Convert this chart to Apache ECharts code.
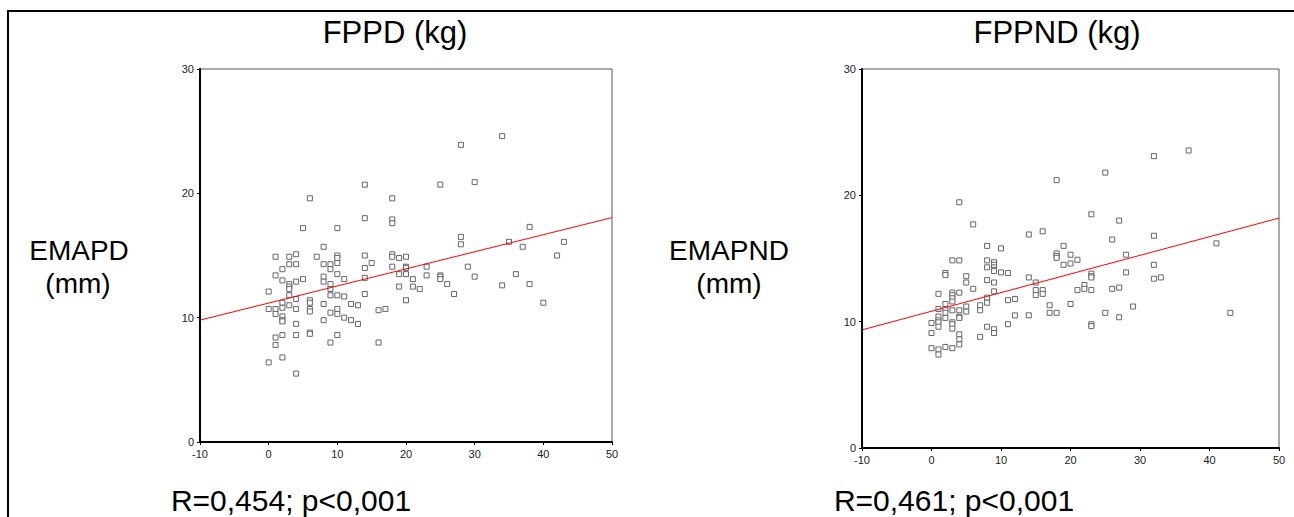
<!DOCTYPE html>
<html>
<head>
<meta charset="utf-8">
<script src="https://cdn.jsdelivr.net/npm/echarts@6/dist/echarts.min.js"></script>
<style>
html,body{margin:0;padding:0;background:#fff;}
#chart{width:1294px;height:517px;}
</style>
</head>
<body>
<div id="chart"></div>
<script>
// ---- tick labels ----
const xTicks = [-10, 0, 10, 20, 30, 40, 50];
const yTicks = [0, 10, 20, 30];

// ---- texts ----
const leftTitle = 'FPPD (kg)';
const rightTitle = 'FPPND (kg)';
const leftYLabel = ['EMAPD', '(mm)'];
const rightYLabel = ['EMAPND', '(mm)'];
const leftStat = 'R=0,454; p<0,001';
const rightStat = 'R=0,461; p<0,001';

// ---- left panel: FPPD (kg) vs EMAPD (mm) ----
const emapdVsFppd = [
  [0,12.1],[0,10.7],[0,6.4],
  [1,14.9],[1,13.4],[1,10.7],[1,10.3],[1,8.4],[1,7.8],
  [2,13.9],[2,13.0],[2,11.2],[2,10.8],[2,10.1],[2,9.8],[2,9.7],[2,8.6],[2,6.8],
  [3,14.9],[3,14.3],[3,12.7],[3,12.5],[3,12.3],[3,11.8],[3,11.0],
  [4,15.1],[4,14.3],[4,12.9],[4,11.5],[4,10.7],[4,9.5],[4,8.6],[4,5.5],
  [5,17.2],[5,13.1],
  [6,19.6],[6,11.4],[6,11.2],[6,10.7],[6,10.5],[6,8.8],[6,8.7],
  [7,14.9],
  [8,15.7],[8,14.3],[8,13.3],[8,12.9],[8,11.1],[8,9.8],
  [9,14.3],[9,13.9],[9,12.7],[9,12.3],[9,11.8],[9,10.4],[9,8.0],
  [10,17.2],[10,15.0],[10,14.8],[10,14.4],[10,13.5],[10,11.8],[10,10.7],[10,10.3],[10,8.6],
  [11,13.1],[11,11.7],[11,10.0],
  [12,11.1],[12,9.8],
  [13,11.0],[13,9.5],
  [14,20.7],[14,18.0],[14,15.0],[14,14.0],[14,13.2],[14,11.9],
  [15,14.4],
  [16,10.6],[16,8.0],
  [17,10.7],
  [18,19.6],[18,17.9],[18,17.6],[18,15.1],[18,14.9],[18,14.1],
  [19,14.8],[19,13.5],[19,12.5],
  [20,14.9],[20,14.1],[20,14.0],[20,13.5],[20,11.4],
  [21,13.1],[21,12.5],
  [22,12.3],
  [23,14.1],[23,13.4],
  [25,20.7],[25,13.4],[25,13.3],[25,13.1],
  [26,12.7],[27,11.9],
  [28,23.9],[28,16.5],[28,15.9],
  [29,14.1],
  [30,20.9],[30,13.3],
  [34,24.6],[34,12.6],
  [35,16.1],[36,13.5],[37,15.7],
  [38,17.3],[38,12.7],
  [40,11.2],[42,15.0],[43,16.1]
];
const leftFit = [[-10, 9.8], [50, 18.05]];

// ---- right panel: FPPND (kg) vs EMAPND (mm) ----
const emapndVsFppnd = [
  [0,9.9],[0,9.1],[0,7.9],
  [1,12.2],[1,11.0],[1,10.4],[1,10.1],[1,9.95],[1,9.6],[1,7.8],[1,7.4],
  [2,13.85],[2,13.7],[2,11.4],[2,11.0],[2,10.7],[2,10.3],[2,8.0],
  [3,14.85],[3,12.3],[3,12.1],[3,11.85],[3,11.6],[3,10.9],[3,9.95],[3,9.8],[3,9.45],[3,7.9],
  [4,19.45],[4,14.85],[4,12.3],[4,10.9],[4,10.4],[4,10.3],[4,9.0],[4,8.6],[4,8.2],
  [5,13.6],[5,13.1],[5,11.2],[5,10.8],
  [6,17.7],[6,12.6],
  [7,11.3],[7,10.9],[7,8.8],
  [8,16.0],[8,14.85],[8,14.3],[8,13.3],[8,11.9],[8,11.5],[8,9.6],
  [9,14.7],[9,14.5],[9,14.3],[9,14.1],[9,14.0],[9,13.1],[9,12.4],[9,9.4],[9,9.1],
  [10,15.8],[10,13.9],
  [11,13.85],[11,11.7],[11,9.8],
  [12,11.8],[12,10.5],
  [14,16.9],[14,13.5],[14,10.5],
  [15,13.1],[15,12.5],[15,12.1],
  [16,17.15],[16,12.5],[16,12.2],
  [17,11.3],[17,10.7],
  [18,21.2],[18,15.4],[18,15.2],[18,15.05],[18,10.7],
  [19,16.0],[19,14.5],
  [20,15.3],[20,14.6],[20,11.4],
  [21,14.9],[21,12.5],
  [22,12.9],[22,12.6],
  [23,18.5],[23,13.8],[23,13.6],[23,13.5],[23,12.5],[23,9.8],[23,9.65],
  [25,21.8],[25,10.7],
  [26,16.5],[26,12.6],
  [27,18.0],[27,12.7],[27,10.35],
  [28,15.3],[28,13.9],
  [29,11.2],
  [32,23.1],[32,16.8],[32,14.5],[32,13.4],
  [33,13.5],
  [37,23.55],
  [41,16.2],
  [43,10.7]
];
const rightFit = [[-10, 9.35], [50, 18.2]];

const FONT = '"Liberation Sans", Arial, sans-serif';

function xAxisFor(gridIndex) {
  return {
    gridIndex: gridIndex, type: 'value',
    min: xTicks[0], max: xTicks[xTicks.length - 1], interval: 10,
    axisLine: { show: true, onZero: false, lineStyle: { color: '#000', width: 2 } },
    axisTick: { show: true, length: 3, lineStyle: { color: '#000', width: 1 } },
    axisLabel: { color: '#222', fontSize: 11, fontFamily: FONT, margin: 6 },
    splitLine: { show: false }
  };
}
function yAxisFor(gridIndex) {
  return {
    gridIndex: gridIndex, type: 'value',
    min: yTicks[0], max: yTicks[yTicks.length - 1], interval: 10,
    axisLine: { show: true, onZero: false, lineStyle: { color: '#000', width: 2 } },
    axisTick: { show: true, length: 3, lineStyle: { color: '#000', width: 1 } },
    axisLabel: { color: '#222', fontSize: 11, fontFamily: FONT, margin: 6 },
    splitLine: { show: false }
  };
}
function scatterFor(idx, data) {
  return {
    type: 'scatter', xAxisIndex: idx, yAxisIndex: idx, data: data,
    symbol: 'rect', symbolSize: 5,
    itemStyle: { color: '#fff', borderColor: '#666', borderWidth: 1, opacity: 1 },
    silent: true, z: 3
  };
}
function fitFor(idx, data) {
  return {
    type: 'line', xAxisIndex: idx, yAxisIndex: idx, data: data,
    symbol: 'none', lineStyle: { color: '#ff0000', width: 1 },
    silent: true, z: 4
  };
}
function txt(x, y, s, size) {
  return {
    type: 'text', x: x, y: y,
    style: { text: s, font: size + 'px ' + FONT, fill: '#000', textAlign: 'center', textVerticalAlign: 'middle' }
  };
}

const chart = echarts.init(document.getElementById('chart'), null, { renderer: 'svg' });
chart.setOption({
  animation: false,
  backgroundColor: '#fff',
  grid: [
    { left: 200, top: 69, width: 412, height: 373, show: true, borderColor: '#555', borderWidth: 1, backgroundColor: 'transparent' },
    { left: 862, top: 69, width: 417, height: 379, show: true, borderColor: '#555', borderWidth: 1, backgroundColor: 'transparent' }
  ],
  xAxis: [xAxisFor(0), xAxisFor(1)],
  yAxis: [yAxisFor(0), yAxisFor(1)],
  series: [
    scatterFor(0, emapdVsFppd), fitFor(0, leftFit),
    scatterFor(1, emapndVsFppnd), fitFor(1, rightFit)
  ],
  graphic: [
    { type: 'polyline', shape: { points: [[8, 517], [8, 11], [1294, 11]] }, style: { stroke: '#000', lineWidth: 2, fill: null } },
    txt(395, 32, leftTitle, 31),
    txt(1057, 32, rightTitle, 31),
    txt(79, 250, leftYLabel[0], 28),
    txt(78, 283, leftYLabel[1], 28),
    txt(729, 250, rightYLabel[0], 28),
    txt(729, 283, rightYLabel[1], 28),
    txt(291, 500, leftStat, 30),
    txt(954, 500, rightStat, 30)
  ]
});
</script>
</body>
</html>
